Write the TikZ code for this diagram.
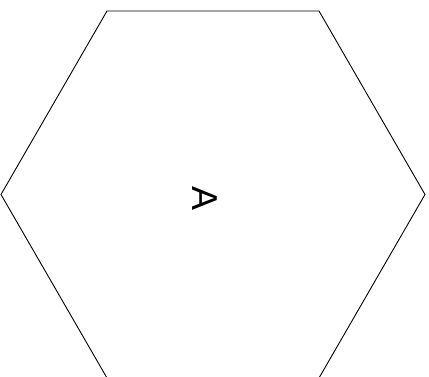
\documentclass[tikz,border=0pt]{standalone}
\usepackage{fontspec}
\setmainfont{Liberation Sans}
\begin{document}
\begin{tikzpicture}[x=1pt,y=1pt,
  hexline/.style={draw=black,line width=0.9pt,line join=miter},
  lbl/.style={font=\fontsize{36}{40}\selectfont,rotate=-90,inner sep=0pt}]
\useasboundingbox (0,0) rectangle (429,377);
\coordinate (c) at (213,182.5);
\draw[hexline] (425,182.5) -- (319,366) -- (107,366) -- (1,182.5) -- (107,-1) -- (319,-1) -- cycle;
\node[lbl] (a) at (205,178) {A};
\end{tikzpicture}
\end{document}
